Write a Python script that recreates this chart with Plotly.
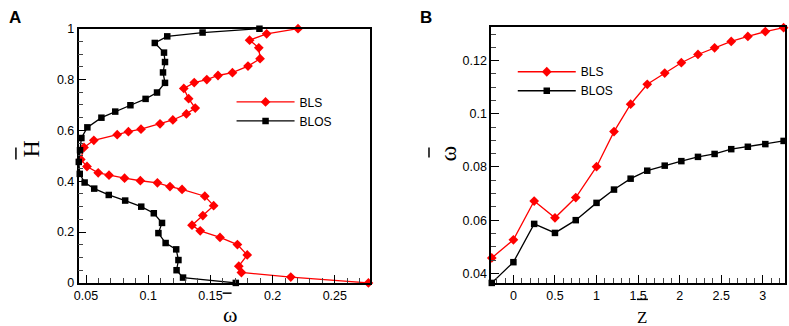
import plotly.graph_objects as go

# ---------------- Panel A data (omega vs H-bar) ----------------
A_blos_omega = [0.1894, 0.1437, 0.1153, 0.1053, 0.1127, 0.1135, 0.1119, 0.1135,
                0.1071, 0.0979, 0.0857, 0.0735, 0.0624, 0.0511, 0.0463, 0.0452,
                0.0442, 0.0450, 0.0489, 0.0566, 0.0683, 0.0815, 0.0944, 0.1045,
                0.1111, 0.1082, 0.1140, 0.1225, 0.1243, 0.1228, 0.1280, 0.1704]
A_blos_H = [1.000, 0.985, 0.970, 0.944, 0.906, 0.869, 0.828, 0.787,
            0.749, 0.724, 0.699, 0.674, 0.650, 0.612, 0.570, 0.522,
            0.476, 0.429, 0.395, 0.371, 0.346, 0.324, 0.300, 0.274,
            0.236, 0.196, 0.157, 0.132, 0.090, 0.050, 0.021, 0.000]

A_bls_omega = [0.2204, 0.1952, 0.1815, 0.1889, 0.1899, 0.1802, 0.1677, 0.1561,
               0.1471, 0.1370, 0.1286, 0.1325, 0.1378, 0.1307, 0.1198, 0.1095,
               0.0942, 0.0841, 0.0751, 0.0563, 0.0484, 0.0458, 0.0508, 0.0598,
               0.0685, 0.0810, 0.0937, 0.1074, 0.1175, 0.1272, 0.1455, 0.1526,
               0.1439, 0.1352, 0.1418, 0.1577, 0.1717, 0.1796, 0.1728, 0.1749,
               0.2146, 0.2770]
A_bls_H = [1.000, 0.980, 0.955, 0.925, 0.882, 0.853, 0.827, 0.816,
           0.800, 0.788, 0.765, 0.725, 0.688, 0.665, 0.641, 0.626,
           0.605, 0.595, 0.583, 0.561, 0.533, 0.486, 0.458, 0.433,
           0.424, 0.412, 0.402, 0.394, 0.379, 0.368, 0.341, 0.304,
           0.265, 0.227, 0.205, 0.179, 0.151, 0.110, 0.066, 0.041,
           0.023, 0.000]

A_xtick_vals = [0.05, 0.1, 0.15, 0.2, 0.25]
A_xtick_text = ["0.05", "0.1", "0.15", "0.2", "0.25"]
A_ytick_vals = [0, 0.2, 0.4, 0.6, 0.8, 1]
A_ytick_text = ["0", "0.2", "0.4", "0.6", "0.8", "1"]

# ---------------- Panel B data (Z-bar vs omega-bar) ----------------
B_Z = [-0.26, 0.0, 0.25, 0.5, 0.75, 1.0, 1.21, 1.41, 1.61, 1.82, 2.02,
       2.22, 2.42, 2.62, 2.82, 3.03, 3.25]
B_bls = [0.0458, 0.0526, 0.0672, 0.0609, 0.0685, 0.0801, 0.0933, 0.1036,
         0.1111, 0.1153, 0.1192, 0.1223, 0.1248, 0.1272, 0.1291, 0.1309, 0.1324]
B_blos = [0.0364, 0.0442, 0.0586, 0.0552, 0.0600, 0.0665, 0.0715, 0.0756,
          0.0786, 0.0805, 0.0822, 0.0838, 0.0849, 0.0867, 0.0876, 0.0886, 0.0898]

B_xtick_vals = [0, 0.5, 1, 1.5, 2, 2.5, 3]
B_xtick_text = ["0", "0.5", "1", "1.5", "2", "2.5", "3"]
B_ytick_vals = [0.04, 0.06, 0.08, 0.1, 0.12]
B_ytick_text = ["0.04", "0.06", "0.08", "0.1", "0.12"]

# ---------------- layout helpers ----------------
W, Hh = 789, 326
def fx(x):
    return x / W
def fy(y):
    return 1 - y / Hh

RED = "#ff0000"
BLACK = "#000000"
SANS = "Liberation Sans, Arial, sans-serif"
SERIF = "Liberation Serif, Times New Roman, serif"

fig = go.Figure()

def add_series(x, y, name, color, symbol, msize, xa, ya, leg):
    fig.add_trace(go.Scatter(
        x=x, y=y, mode="lines+markers", name=name,
        line=dict(color=color, width=1.3),
        marker=dict(symbol=symbol, size=msize, color=color, line=dict(width=0)),
        xaxis=xa, yaxis=ya, legend=leg, cliponaxis=False))

add_series(A_bls_omega, A_bls_H, "BLS", RED, "diamond", 7.5, "x", "y", "legend")
add_series(A_blos_omega, A_blos_H, "BLOS", BLACK, "square", 6.5, "x", "y", "legend")
add_series(B_Z, B_bls, "BLS", RED, "diamond", 7.5, "x2", "y2", "legend2")
add_series(B_Z, B_blos, "BLOS", BLACK, "square", 6.5, "x2", "y2", "legend2")

def axis(domain, rng, tv, tt, minor_dtick, anchor):
    return dict(
        domain=domain, range=rng,
        tickmode="linear", tick0=0, dtick=tv[1] - tv[0],
        labelalias={str(v): t for v, t in zip(tv, tt)},
        ticks="inside", ticklen=8, tickwidth=1.2, tickcolor=BLACK,
        showline=True, linecolor=BLACK, linewidth=1.5, mirror=True,
        showgrid=False, zeroline=False, anchor=anchor,
        tickfont=dict(family=SANS, size=12.5, color=BLACK),
        minor=dict(tick0=0, dtick=minor_dtick, ticks="inside",
                   ticklen=5, tickwidth=1, tickcolor="#444444", showgrid=False),
    )

fig.update_layout(
    width=W, height=Hh,
    margin=dict(l=0, r=0, t=0, b=0),
    paper_bgcolor="white", plot_bgcolor="white",
    xaxis=axis([fx(74), fx(367)], [0.044, 0.278], A_xtick_vals, A_xtick_text, 0.01, "y"),
    yaxis=axis([fy(288.3), fy(22.7)], [0, 1], A_ytick_vals, A_ytick_text, 0.05, "x"),
    xaxis2=axis([fx(489.3), fx(785)], [-0.267, 3.267], B_xtick_vals, B_xtick_text, 0.1, "y2"),
    yaxis2=axis([fy(288.3), fy(21)], [0.0364, 0.1326], B_ytick_vals, B_ytick_text, 0.005, "x2"),
    legend=dict(x=fx(228), y=fy(84), xanchor="left", yanchor="top",
                bgcolor="rgba(0,0,0,0)", font=dict(family=SANS, size=12, color=BLACK),
                itemwidth=58, tracegroupgap=0),
    legend2=dict(x=fx(511), y=fy(52.5), xanchor="left", yanchor="top",
                 bgcolor="rgba(0,0,0,0)", font=dict(family=SANS, size=12, color=BLACK),
                 itemwidth=58, tracegroupgap=0),
    showlegend=True,
)

ann = []
ann.append(dict(text="<b>A</b>", x=fx(2), y=fy(10.5), xanchor="left", yanchor="middle",
                font=dict(family=SANS, size=17, color=BLACK)))
ann.append(dict(text="<b>B</b>", x=fx(416), y=fy(10.5), xanchor="left", yanchor="middle",
                font=dict(family=SANS, size=17, color=BLACK)))
# axis titles
ann.append(dict(text="ω", x=fx(226), y=0, xanchor="center", yanchor="bottom", borderpad=0,
                yshift=-9, font=dict(family=SERIF, size=22, color=BLACK)))
ann.append(dict(text="H", x=fx(26), y=fy(148), xanchor="center", yanchor="middle",
                textangle=-90, font=dict(family=SERIF, size=24, color=BLACK)))
ann.append(dict(text="Z", x=fx(641), y=0, xanchor="center", yanchor="bottom", borderpad=0,
                yshift=-9, font=dict(family=SERIF, size=17, color=BLACK)))
ann.append(dict(text="ω", x=fx(446), y=fy(153), xanchor="center", yanchor="middle",
                textangle=-90, font=dict(family=SERIF, size=24, color=BLACK)))
for a in ann:
    a.update(xref="paper", yref="paper", showarrow=False)
fig.update_layout(annotations=ann)

# over-bars of the axis titles
bars = [
    (219, 299, 228, 299),    # omega bar, panel A
    (11, 146.7, 11, 159.3),  # H bar, panel A
    (636, 305.5, 647, 305.5),    # Z bar, panel B
    (426.7, 146.7, 426.7, 157.3),  # omega bar, panel B
]
for x0, y0, x1, y1 in bars:
    fig.add_shape(type="line", xref="paper", yref="paper",
                  x0=fx(x0), y0=fy(y0), x1=fx(x1), y1=fy(y1),
                  line=dict(color=BLACK, width=1.5))

fig.write_html("out.html", config={"displayModeBar": False},
               post_script="document.body.style.margin='0';")
